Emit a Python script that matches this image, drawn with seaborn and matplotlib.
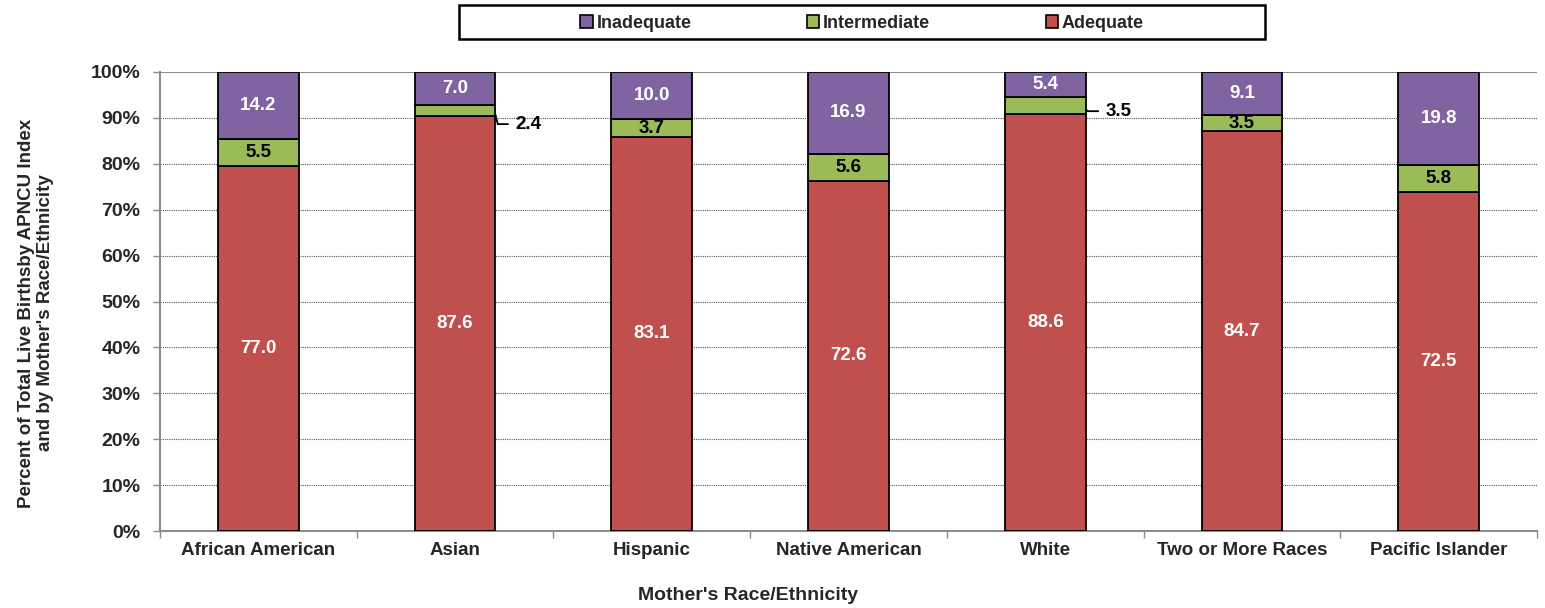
import numpy as np
import pandas as pd
import matplotlib
matplotlib.use("Agg")
import matplotlib.pyplot as plt
from matplotlib.patches import Patch, Rectangle
from matplotlib.ticker import PercentFormatter, FixedLocator
import seaborn as sns

categories = ["African American", "Asian", "Hispanic", "Native American",
              "White", "Two or More Races", "Pacific Islander"]
adequate = [77.0, 87.6, 83.1, 72.6, 88.6, 84.7, 72.5]
intermediate = [5.5, 2.4, 3.7, 5.6, 3.5, 3.5, 5.8]
inadequate = [14.2, 7.0, 10.0, 16.9, 5.4, 9.1, 19.8]

series_names = ["Inadequate", "Intermediate", "Adequate"]
colors = {"Adequate": "#C0504D", "Intermediate": "#9BBB59", "Inadequate": "#8064A2"}
label_colors = {"Adequate": "white", "Intermediate": "black", "Inadequate": "white"}

sns.set_theme(style="white")
plt.rcParams["font.family"] = ["Liberation Sans", "DejaVu Sans"]
plt.rcParams["font.weight"] = "bold"

df = pd.DataFrame({"cat": categories, "Adequate": adequate,
                   "Intermediate": intermediate, "Inadequate": inadequate})
tot = df[["Adequate", "Intermediate", "Inadequate"]].sum(axis=1)
pct = {k: df[k] / tot * 100 for k in ["Adequate", "Intermediate", "Inadequate"]}

W, H = 1545, 608
fig = plt.figure(figsize=(W / 100, H / 100), dpi=100)
ax = fig.add_axes([160/W, 1-531/H, (1537-160)/W, (531-72)/H])

BAR_W = 0.41
bottom = np.zeros(len(categories))
stack_order = ["Adequate", "Intermediate", "Inadequate"]
for name in stack_order:
    d = pd.DataFrame({"cat": categories, "v": pct[name].values})
    sns.barplot(data=d, x="cat", y="v", ax=ax, color=colors[name], bottom=bottom,
                width=BAR_W, edgecolor="black", linewidth=1.3, saturation=1,
                zorder=3)
    raw = df[name].values
    for i, (b, h) in enumerate(zip(bottom, pct[name].values)):
        txt = f"{raw[i]:.1f}"
        mid = b + h / 2
        if name == "Intermediate" and categories[i] in ("Asian", "White"):
            drop = 2.9 if categories[i] == "Asian" else 1.2
            edge = i + BAR_W / 2
            ax.plot([edge, edge + 0.012, edge + 0.068],
                    [mid - 0.8, mid - drop, mid - drop],
                    color="black", lw=1.3, zorder=5, solid_capstyle="butt")
            ax.text(edge + 0.1, mid - drop, txt, ha="left", va="center",
                    fontsize=13.5, fontweight="bold", color="black", zorder=5)
        else:
            ax.text(i, mid, txt, ha="center", va="center", fontsize=13.5,
                    fontweight="bold", color=label_colors[name], zorder=5)
    bottom = bottom + pct[name].values

ax.set_ylim(0, 100)
ax.set_xlim(-0.5, len(categories) - 0.5)
ax.yaxis.set_major_locator(FixedLocator(np.arange(0, 101, 10)))
ax.yaxis.set_major_formatter(PercentFormatter(decimals=0))
for y in range(10, 100, 10):
    ax.axhline(y, color="#555555", lw=0.8, ls=(0, (1, 1)), zorder=1)
ax.axhline(100, color="#8c8c8c", lw=1.5, zorder=2)

for s in ["top", "right"]:
    ax.spines[s].set_visible(False)
for s in ["left", "bottom"]:
    ax.spines[s].set_color("#8c8c8c")
    ax.spines[s].set_linewidth(1.5)

ax.tick_params(axis="y", which="major", left=True, length=5, width=1, color="#8c8c8c",
               labelsize=14, pad=9)
ax.tick_params(axis="x", which="major", bottom=False, length=0, labelsize=13.5, pad=8)
ax.set_xticks(np.arange(-0.5, len(categories), 1.0), minor=True)
ax.tick_params(axis="x", which="minor", bottom=True, length=5, width=1, color="#8c8c8c")
for lab in ax.get_xticklabels() + ax.get_yticklabels():
    lab.set_fontweight("bold")

ax.set_xlabel("")
ax.set_ylabel("")
fig.text(748/W, 1-595/H, "Mother's Race/Ethnicity", ha="center", va="center",
         fontsize=14, fontweight="bold")
fig.text(36/W, 1-313/H,
         "Percent of Total Live Birthsby APNCU Index\nand by Mother's Race/Ethnicity",
         ha="center", va="center", rotation=90, fontsize=13.5, fontweight="bold",
         linespacing=1.2, multialignment="center")

# legend frame
fig.patches.append(Rectangle((459/W, 1-39/H), (1265-459)/W, 34/H,
                             transform=fig.transFigure, facecolor="white",
                             edgecolor="black", linewidth=1.8, zorder=1))
handles = [Patch(facecolor=colors[n], edgecolor="black", linewidth=1.2, label=n)
           for n in series_names]
leg = fig.legend(handles=handles, loc="center", ncol=3,
                 bbox_to_anchor=(862/W, 1-23/H),
                 frameon=False, prop={"weight": "bold", "size": 13},
                 handlelength=0.7, handleheight=0.7, handletextpad=0.2,
                 columnspacing=6.4, borderaxespad=0, borderpad=0)

fig.savefig("out.png", dpi=100)
